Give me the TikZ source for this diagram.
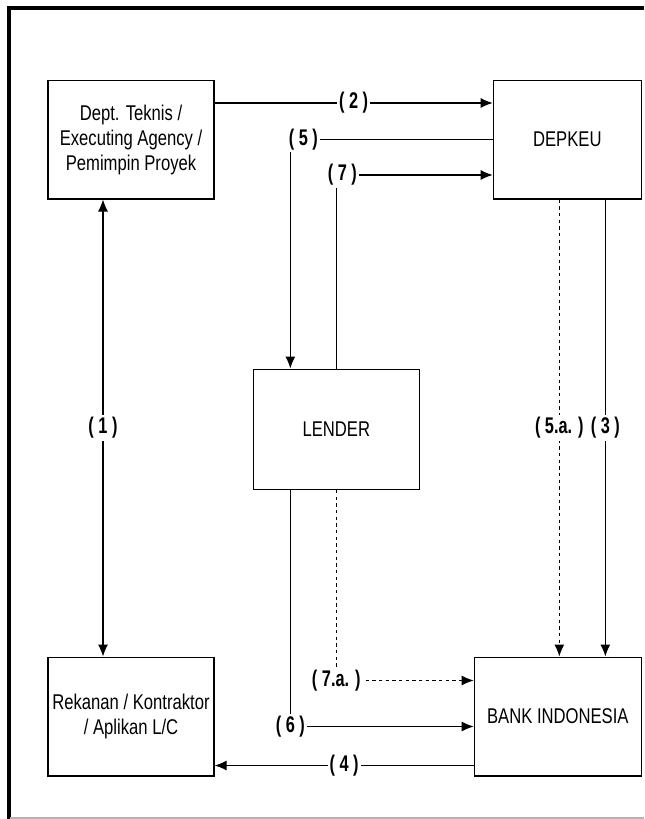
\documentclass[tikz,border=0pt]{standalone}
\usepackage{fontspec}
\usepackage{tikz}
\usetikzlibrary{arrows.meta, positioning}
\newfontfamily\boxfont[FakeStretch=0.78]{Liberation Sans}
\newfontfamily\lblfont[FakeStretch=0.72]{Liberation Sans}
\definecolor{framegray}{HTML}{b4b4b4}

\begin{document}
\begin{tikzpicture}[
    x=0.75pt, y=-0.75pt,
    box/.style={rectangle, draw=black, line width=1pt, fill=white, minimum width=124.5pt, minimum height=89pt, align=center, inner sep=0pt, font=\boxfont\fontsize{16}{18.75}\selectfont},
    lbl/.style={fill=white, inner sep=1.5pt, font=\lblfont\bfseries\fontsize{17}{18}\selectfont},
    arr/.style={-{Latex[length=9pt, width=7.5pt]}, line width=0.8pt},
    darr/.style={{Latex[length=9pt, width=7.5pt]}-{Latex[length=9pt, width=7.5pt]}, line width=0.8pt},
    dashline/.style={dash pattern=on 2.5pt off 2.5pt}
]
\useasboundingbox (0,0) rectangle (644,819);

% Frame
\draw[line width=2.5pt] (9,819) -- (9,8) -- (644,8);
\draw[framegray, line width=0.8pt] (10,818) -- (644,818);

% Top row
\node[box] (dept) at (131,139.5) {Dept. Teknis /\\Executing Agency /\\Pemimpin Proyek};
\node[box, right=208.5pt of dept, minimum width=111pt] (depkeu) {DEPKEU};

% Middle
\node[box, below right=126.75pt and 28.5pt of dept.south east, minimum height=90pt] (lender) {LENDER};

% Bottom row
\node[box, below=342.75pt of dept] (rekanan) {Rekanan / Kontraktor\\/ Aplikan L/C};
\node[box, right=194.25pt of rekanan, minimum width=125.25pt] (bank) {BANK INDONESIA};

% Arrows
\draw[darr] ([xshift=-21pt]dept.south) -- ([xshift=-21pt]rekanan.north) node[lbl, midway] {( 1 )};
\draw[arr] ([yshift=27.4pt]dept.east) -- ([yshift=27.4pt]depkeu.west) node[lbl, midway] {( 2 )};
\draw[arr] (depkeu.west) -| ([xshift=-34.5pt]lender.north) node[lbl, pos=0.5, xshift=9.75pt] {( 5 )};
\draw[arr] (lender.north) |- ([yshift=-26.6pt]depkeu.west) node[lbl, pos=0.5, xshift=4.5pt] {( 7 )};
\draw[arr, dashline] ([xshift=-6pt]depkeu.south) -- ([xshift=-6pt]depkeu.south |- bank.north) node[lbl, midway] {( 5.a. )};
\draw[arr] ([xshift=28.5pt]depkeu.south) -- ([xshift=28.5pt]depkeu.south |- bank.north) node[lbl, midway] {( 3 )};
\draw[arr, dashline] (lender.south) |- ([yshift=27pt]bank.west) node[lbl, pos=0.5] {( 7.a. )};
\draw[arr] ([xshift=-34.5pt]lender.south) |- ([yshift=-7.5pt]bank.west) node[lbl, pos=0.5] {( 6 )};
\draw[arr] ([yshift=-36.75pt]bank.west) -- ([yshift=-36.75pt]bank.west -| rekanan.east) node[lbl, midway] {( 4 )};

\end{tikzpicture}
\end{document}
